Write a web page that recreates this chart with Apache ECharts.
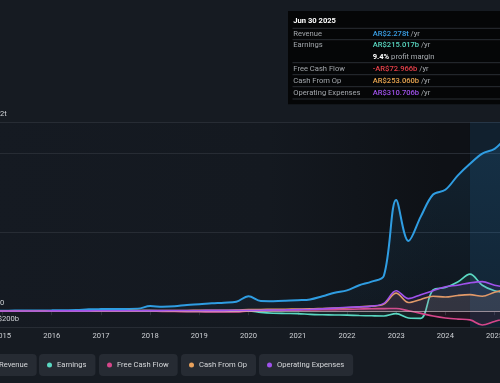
<!DOCTYPE html>
<html><head><meta charset="utf-8">
<script src="https://cdn.jsdelivr.net/npm/echarts@6/dist/echarts.min.js"></script>
<style>html,body{margin:0;padding:0;background:#161b22;overflow:hidden}#c{width:500px;height:383px}</style>
</head><body><div id="c"></div>
<script>
// ---- data (values in AR$ trillions) ----
const dates = [2014.5,2014.75,2015,2015.25,2015.5,2015.75,2016,2016.25,2016.5,2016.75,2017,2017.25,2017.5,2017.75,2018,2018.25,2018.5,2018.75,2019,2019.25,2019.5,2019.75,2020,2020.25,2020.5,2020.75,2021,2021.25,2021.5,2021.75,2022,2022.25,2022.5,2022.75,2023,2023.25,2023.5,2023.75,2024,2024.25,2024.5,2024.75,2025,2025.25,2025.5];
const revenue = [0.005,0.006,0.007,0.008,0.009,0.010,0.011,0.013,0.015,0.024,0.027,0.028,0.029,0.031,0.066,0.057,0.062,0.080,0.088,0.100,0.108,0.120,0.190,0.130,0.128,0.132,0.140,0.150,0.190,0.235,0.265,0.330,0.375,0.450,1.410,0.890,1.200,1.480,1.540,1.720,1.870,2.000,2.060,2.200,2.278];
const earnings = [0.002,0.002,0.003,0.003,0.003,0.004,0.004,0.005,0.005,0.006,0.006,0.006,0.007,0.007,0.008,0.004,0.001,-0.002,-0.004,-0.005,-0.005,-0.004,0.004,-0.015,-0.025,-0.028,-0.030,-0.040,-0.045,-0.048,-0.050,-0.055,-0.058,-0.060,-0.030,-0.085,-0.090,0.270,0.300,0.370,0.470,0.330,0.260,0.235,0.215017];
const freeCashFlow = [0.001,0.001,0.001,0.002,0.002,0.002,0.002,0.003,0.003,0.003,0.003,0.004,0.004,0.004,0.002,-0.002,-0.004,-0.006,-0.007,-0.008,-0.008,-0.010,0.004,0.008,0.010,0.012,0.014,0.016,0.018,0.020,0.024,0.028,0.032,0.033,0.035,0.005,-0.027,-0.060,-0.085,-0.100,-0.110,-0.175,-0.130,-0.090,-0.072966];
const cashFromOp = [0.002,0.002,0.003,0.003,0.003,0.004,0.004,0.005,0.005,0.006,0.006,0.007,0.007,0.008,0.009,0.008,0.009,0.010,0.011,0.012,0.013,0.014,0.020,0.022,0.024,0.026,0.028,0.030,0.035,0.040,0.045,0.055,0.065,0.090,0.230,0.110,0.150,0.190,0.180,0.200,0.210,0.190,0.240,0.270,0.253060];
const operatingExpenses = [0.002,0.002,0.002,0.003,0.003,0.003,0.004,0.004,0.005,0.005,0.006,0.006,0.006,0.007,0.008,0.008,0.009,0.010,0.010,0.011,0.011,0.012,0.012,0.013,0.015,0.017,0.020,0.024,0.030,0.040,0.050,0.055,0.065,0.100,0.260,0.160,0.210,0.260,0.310,0.330,0.360,0.375,0.330,0.310,0.310706];
const yearTicks = [2015,2016,2017,2018,2019,2020,2021,2022,2023,2024,2025];
const yGridValues = [-0.2,0,1,2,2.4];
const yLabelValues = [-0.2,0,2.4];
const zeroLine = [0];
const highlightRange = [2024.5, 2025.72];
const tooltipDate = 'Jun 30 2025';
const seriesNames = ['Revenue','Earnings','Free Cash Flow','Cash From Op','Operating Expenses'];
const tooltipLabels = ['Revenue','Earnings','Free Cash Flow','Cash From Op','Operating Expenses'];

// ---- styling ----
const colors = ['#2f9de2','#5ad8c2','#d6468a','#e8a15c','#a052ec'];
const valueColors = ['#3a9ee4','#5ad8c2','#e8414a','#e8a550','#a052ec'];
const FONT = 'Roboto';
const FS = 7.6;
const xMin = 2014.644, xMax = 2025.72;

const chart = echarts.init(document.getElementById('c'), null, {renderer:'canvas'});

const seriesData = [revenue, earnings, freeCashFlow, cashFromOp, operatingExpenses];
const pairs = arr => arr.map((v,i)=>[dates[i], v]);
function hexA(hex,a){const n=parseInt(hex.slice(1),16);return `rgba(${n>>16},${(n>>8)&255},${n&255},${a})`;}

const fmtT = v => 'AR$' + v.toFixed(3) + 't';
const fmtB = v => (v<0?'-':'') + 'AR$' + Math.abs(v*1000).toFixed(3) + 'b';
const last = a => a[a.length-1];

const series = seriesData.map((arr,i)=>{
  const s = {
    name: seriesNames[i], type:'line', data: pairs(arr), smooth:0.35, symbol:'none',
    lineStyle:{width: i===0?2:1.6, color: colors[i]}, itemStyle:{color: colors[i]},
    areaStyle: i===0 ? {color: new echarts.graphic.LinearGradient(0,0,0,1,[{offset:0,color:'rgba(45,150,220,0.20)'},{offset:1,color:'rgba(45,150,220,0.06)'}])}
                     : {color: hexA(colors[i],0.13)},
    emphasis:{disabled:true}, silent:true, z: 2+i
  };
  if(i===0){
    s.markArea = {silent:true, itemStyle:{color:'rgba(40,115,175,0.16)'}, data:[[{xAxis:highlightRange[0]},{xAxis:highlightRange[1]}]]};
  }
  if(i===2){
    s.markLine = {silent:true, symbol:'none', label:{show:false}, lineStyle:{color:'rgba(230,210,210,0.55)', width:1, type:'solid'}, data: zeroLine.map(v=>({yAxis:v}))};
  }
  return s;
});

const legendLefts = [-19, 39, 99, 181, 259];
const legends = seriesNames.map((n,i)=>({
  data:[n], left: legendLefts[i], top:354, icon:'circle', itemWidth:5, itemHeight:5, itemGap:0,
  backgroundColor:'#262b33', borderRadius:4, padding:[7,9,7,8], selectedMode:false,
  textStyle:{color:'#d6d8db', fontSize:FS, fontFamily:FONT, lineHeight:8}
}));

// tooltip-like box (real text)
const rowY = [22.7, 34, 46, 57.7, 69.7, 81.7];
const lineY = [17.3, 28.7, 51.7, 63.7, 75.7, 88];
const tok = (c,w)=>({fill:c, fontSize:FS, fontFamily:FONT, fontWeight:w||'normal'});
const rich = {
  v0:tok(valueColors[0],500), v1:tok(valueColors[1],500), v2:tok(valueColors[2],500),
  v3:tok(valueColors[3],500), v4:tok(valueColors[4],500),
  w:tok('#ffffff','bold'), g:tok('#a9adb2')
};
const valStr = [fmtT(last(revenue)), fmtB(last(earnings)), fmtB(last(freeCashFlow)), fmtB(last(cashFromOp)), fmtB(last(operatingExpenses))];
const margin = (last(earnings)/last(revenue)*100).toFixed(1) + '%';
const tipChildren = [
  {type:'rect', shape:{x:0,y:0,width:240,height:93.3}, style:{fill:'#050607'}},
  {type:'text', x:5.3, y:10, style:{text:tooltipDate, fill:'#ffffff', font:`bold ${FS}px ${FONT}`, verticalAlign:'middle', textVerticalAlign:'middle'}}
];
lineY.forEach(y=>tipChildren.push({type:'line', shape:{x1:4.5,y1:y,x2:240,y2:y}, style:{stroke:'#2a2e34', lineWidth:1}}));
const rowMap = [0,1,null,2,3,4];
rowMap.forEach((k,r)=>{
  if(k!==null){
    tipChildren.push({type:'text', x:5.3, y:rowY[r], style:{text:tooltipLabels[k], fill:'#a3a7ac', font:`${FS}px ${FONT}`, verticalAlign:'middle', textVerticalAlign:'middle'}});
    tipChildren.push({type:'text', x:84.7, y:rowY[r], style:{text:`{v${k}|${valStr[k]}}{g| /yr}`, rich, fill:'#a9adb2', font:`${FS}px ${FONT}`, verticalAlign:'middle', textVerticalAlign:'middle'}});
  } else {
    tipChildren.push({type:'text', x:84.7, y:rowY[r], style:{text:`{w|${margin}}{g| profit margin}`, rich, fill:'#a9adb2', font:`${FS}px ${FONT}`, verticalAlign:'middle', textVerticalAlign:'middle'}});
  }
});

const yFmt = v => v===0 ? 'AR$0' : (v<0 ? '-AR$'+Math.round(-v*1000)+'b' : 'AR$'+Math.floor(v)+'t');

chart.setOption({
  backgroundColor:'#161b22',
  animation:false,
  textStyle:{fontFamily:FONT},
  grid:{left:-15, top:122, width:545, height:205, show:true, borderWidth:0, containLabel:false, outerBoundsMode:'none',
    backgroundColor: new echarts.graphic.LinearGradient(0,0,1,0,[
      {offset:0,color:'#151a22'},{offset:0.52,color:'#141920'},{offset:0.84,color:'#0e1116'},{offset:1,color:'#0e1116'}])},
  xAxis:{type:'value', min:xMin, max:xMax,
    axisLine:{show:true, lineStyle:{color:'#2c3139', width:1}},
    axisTick:{show:true, customValues:yearTicks, length:4, lineStyle:{color:'#2c3139'}},
    axisLabel:{customValues:yearTicks, color:'#cdd0d4', fontSize:FS, fontFamily:FONT, margin:5, formatter:v=>String(v)},
    splitLine:{show:false}},
  yAxis:{type:'value', min:-0.2, max:2.4,
    axisLine:{show:false},
    axisTick:{show:false, customValues:yGridValues},
    splitLine:{show:true, lineStyle:{color:'#272c34', width:1}},
    axisLabel:{customValues:yLabelValues, inside:true, margin:1, color:'#cdd0d4', fontSize:FS, fontFamily:FONT, verticalAlign:'bottom', padding:[0,0,4,0], formatter:yFmt}},
  legend: legends,
  series: series,
  graphic:[{type:'group', left:288, top:11, children: tipChildren}]
});
</script></body></html>
